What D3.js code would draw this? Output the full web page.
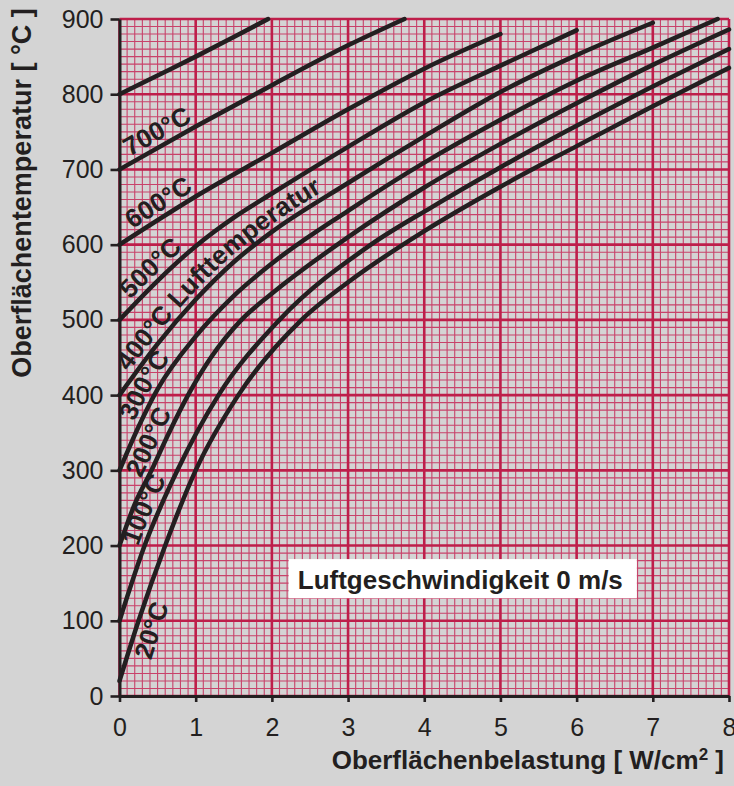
<!DOCTYPE html>
<html>
<head>
<meta charset="utf-8">
<script src="https://cdn.jsdelivr.net/npm/d3@7"></script>
<style>
  body { margin: 0; background: #d4d4d4; }
  svg { display: block; font-family: "Liberation Sans", Arial, Helvetica, sans-serif; }
</style>
</head>
<body>
<div id="chart"></div>
<script>
// Oberflächentemperatur über Oberflächenbelastung, je Lufttemperatur (0 m/s)
// each point: [W/cm², °C]
const curve800 = [[0,800],[0.5,825],[1,850],[1.5,876],[1.95,900]];
const curve700 = [[0,700],[1,757],[2,812],[3,865],[3.74,900]];
const curve600 = [[0,600],[1,664],[2,722],[3,780],[4,834],[5,880]];
const curve500 = [[0,500],[0.5,552],[1,598],[1.5,636],[2,668],[3,730],[4,789],[5,838],[6,885]];
const curve400 = [[0,400],[0.5,468],[1,527],[1.5,577],[2,617],[3,682],[4,744],[5,803],[6,852],[7,895]];
const curve300 = [[0,300],[0.25,358],[0.5,408],[1,478],[1.5,532],[2,575],[3,645],[4,709],[5,766],[6,818],[7,862],[7.85,900]];
const curve200 = [[0,200],[0.2,255],[0.42,300],[0.65,350],[0.9,400],[1.2,450],[1.6,500],[2,535],[3,610],[4,676],[5,734],[6,788],[7,839],[8,886]];
const curve100 = [[0,100],[0.33,200],[0.76,300],[1.3,400],[2.1,500],[3.3,600],[4.1,650],[4.95,700],[5.85,750],[6.8,800],[8,860]];
const curve20  = [[0,20],[0.25,100],[0.6,200],[1,300],[1.56,400],[2.39,500],[3,550],[4,618],[5,677],[6,731],[7,784],[8,835]];

const curves = [
  {air: 800, data: curve800},
  {air: 700, data: curve700},
  {air: 600, data: curve600},
  {air: 500, data: curve500},
  {air: 400, data: curve400},
  {air: 300, data: curve300},
  {air: 200, data: curve200},
  {air: 100, data: curve100},
  {air: 20,  data: curve20}
];

const xTicks = [0,1,2,3,4,5,6,7,8];
const yTicks = [0,100,200,300,400,500,600,700,800,900];

const curveLabels = ["700°C","600°C","500°C","400°C Lufttemperatur","300°C","200°C","100°C","20°C"];
const labelCurves = [700,600,500,400,300,200,100,20];

// where each label sits along its line (px along the path, px off the path)
const labelOffset = [15, 19, 22, 24, 50, 70, 76, 29];
const labelShift  = [-6, -6, -6, -6, -6, -6, -6, 24];

const margin = {top: 19, right: 5, bottom: 90, left: 119.5},
  width = 734 - margin.left - margin.right,
  height = 786 - margin.top - margin.bottom;

const ink = "#231f20";

const svg = d3.select("#chart")
  .append("svg")
    .attr("width", 734)
    .attr("height", 786);

const g = svg.append("g")
  .attr("transform", `translate(${margin.left}, ${margin.top})`);

const x = d3.scaleLinear().domain([0, 8]).range([0, width]);
const y = d3.scaleLinear().domain([0, 900]).range([height, 0]);

// millimetre-paper grid: fine lines first, then the main lines
g.append("g")
  .selectAll("line")
  .data(d3.range(0, 81).map(i => i / 10))
  .join("line")
    .attr("x1", d => x(d)).attr("x2", d => x(d))
    .attr("y1", 0).attr("y2", height)
    .attr("stroke", "#c8426a")
    .attr("stroke-width", 1.1);

g.append("g")
  .selectAll("line")
  .data(d3.range(0, 91).map(i => i * 10))
  .join("line")
    .attr("x1", 0).attr("x2", width)
    .attr("y1", d => y(d)).attr("y2", d => y(d))
    .attr("stroke", "#c8426a")
    .attr("stroke-width", 1.1);

g.append("g")
  .selectAll("line")
  .data(xTicks)
  .join("line")
    .attr("x1", d => x(d)).attr("x2", d => x(d))
    .attr("y1", 0).attr("y2", height)
    .attr("stroke", "#be1e4a")
    .attr("stroke-width", 2.6);

g.append("g")
  .selectAll("line")
  .data(yTicks)
  .join("line")
    .attr("x1", 0).attr("x2", width)
    .attr("y1", d => y(d)).attr("y2", d => y(d))
    .attr("stroke", "#be1e4a")
    .attr("stroke-width", 2.6);

// legend box
const boxX = [2.22, 6.79], boxT = [182, 130];
g.append("rect")
  .attr("x", x(boxX[0]))
  .attr("y", y(boxT[0]))
  .attr("width", x(boxX[1]) - x(boxX[0]))
  .attr("height", y(boxT[1]) - y(boxT[0]))
  .attr("fill", "white");

g.append("text")
  .attr("x", x(2.34))
  .attr("y", y(142))
  .attr("font-size", "26px")
  .attr("font-weight", "bold")
  .attr("fill", ink)
  .text("Luftgeschwindigkeit 0 m/s");

// curves
const line = d3.line()
  .x(d => x(d[0]))
  .y(d => y(d[1]))
  .curve(d3.curveMonotoneX);

g.append("g")
  .selectAll("path")
  .data(curves)
  .join("path")
    .attr("id", d => "curve" + d.air)
    .attr("d", d => line(d.data))
    .attr("fill", "none")
    .attr("stroke", ink)
    .attr("stroke-width", 4.5)
    .attr("stroke-linecap", "round");

// labels riding on their lines
g.append("g")
  .selectAll("text")
  .data(curveLabels)
  .join("text")
    .attr("dy", (d, i) => labelShift[i])
    .attr("font-size", "26px")
    .attr("font-weight", "bold")
    .attr("fill", ink)
  .append("textPath")
    .attr("href", (d, i) => "#curve" + labelCurves[i])
    .attr("startOffset", (d, i) => labelOffset[i])
    .text(d => d);

// axes
const yAxis = g.append("g")
  .call(d3.axisLeft(y).tickValues(yTicks).tickSize(9).tickSizeOuter(0).tickPadding(7));

const xAxis = g.append("g")
  .attr("transform", `translate(0, ${height})`)
  .call(d3.axisBottom(x).tickValues(xTicks).tickSize(6).tickSizeOuter(0).tickPadding(16));

[yAxis, xAxis].forEach(ax => {
  ax.attr("font-family", null).attr("font-size", null);
  ax.select(".domain").attr("stroke", ink).attr("stroke-width", 3);
  ax.selectAll(".tick line").attr("stroke", ink).attr("stroke-width", 2.6);
  ax.selectAll(".tick text").attr("fill", ink).style("font-size", "25px");
});

// axis titles
svg.append("text")
  .attr("x", 724)
  .attr("y", 769)
  .attr("text-anchor", "end")
  .attr("font-size", "26px")
  .attr("font-weight", "bold")
  .attr("fill", ink)
  .html('Oberflächenbelastung [ W/cm<tspan dy="-9" font-size="17px">2</tspan><tspan dy="9"> ]</tspan>');

svg.append("text")
  .attr("transform", "translate(31, 193) rotate(-90)")
  .attr("text-anchor", "middle")
  .attr("font-size", "27px")
  .attr("font-weight", "bold")
  .attr("fill", ink)
  .text("Oberflächentemperatur [ °C ]");
</script>
</body>
</html>
